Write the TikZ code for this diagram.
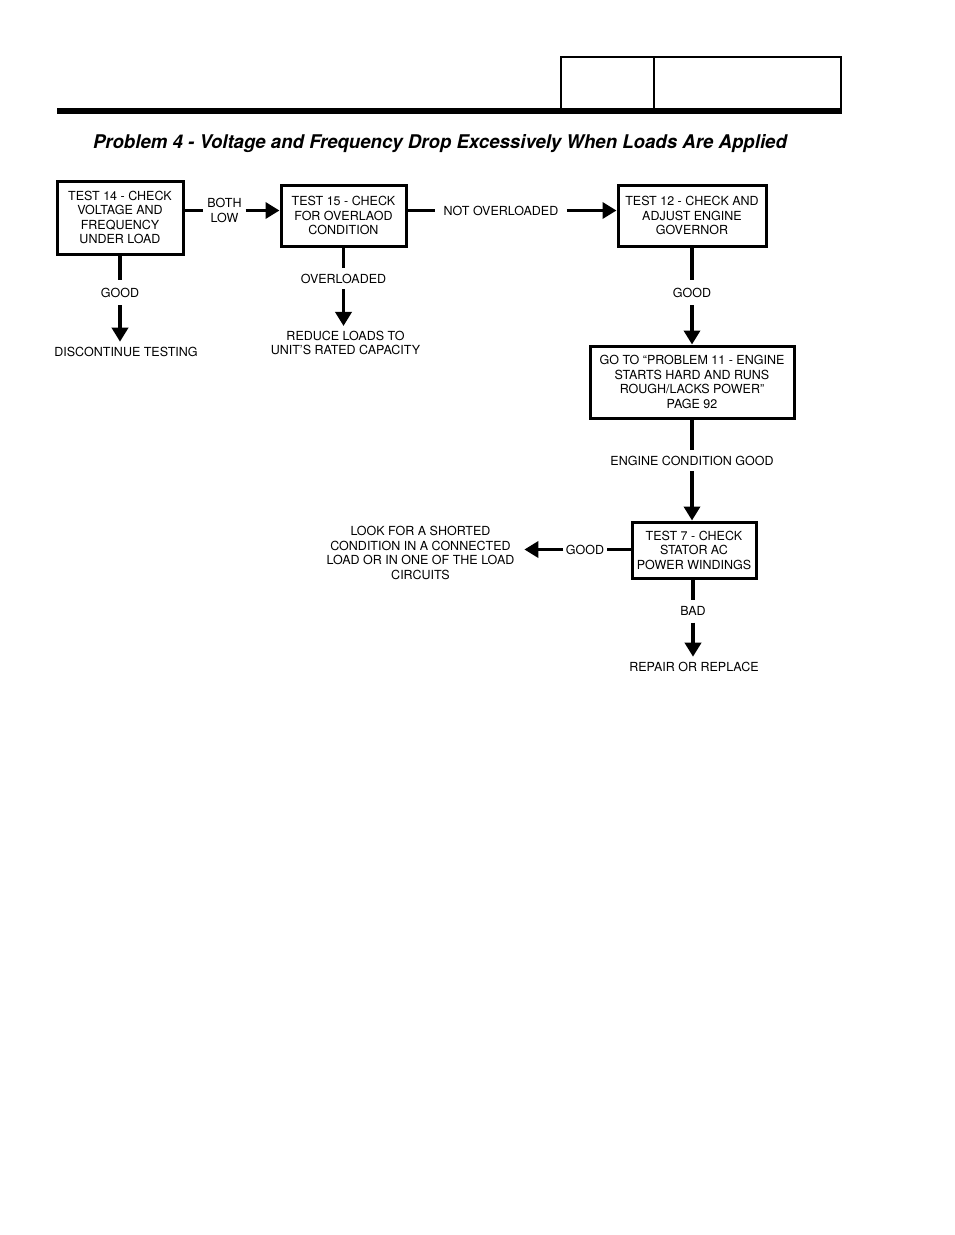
\documentclass[tikz,border=0pt]{standalone}
\usepackage{fontspec}
\setmainfont{TeX Gyre Heros}
\usepackage{tikz}
\usetikzlibrary{arrows.meta}

\tikzset{
 box/.style={draw,line width=3pt,align=center,inner sep=0pt},
 lbl/.style={inner sep=0pt,outer xsep=5pt,outer ysep=8pt,text height=9pt,text depth=0pt},
 txt/.style={inner sep=0pt,outer sep=5pt,align=center},
 con/.style={line width=3.5pt},
 arr/.style={line width=3.5pt,-{Triangle[width=16pt,length=14pt]}}
}

\begin{document}
\begin{tikzpicture}[x=1pt,y=-1pt,font=\fontsize{12.5}{14.5}\selectfont]
\useasboundingbox (0,0) rectangle (954,1235);
%\draw [help lines,step=50] (0,0) grid (954,1235);
\draw [line width=2pt] (561,110) -- (561,57) -- (841,57) -- (841,110); \draw [line width=2pt] (654,57) -- (654,110);
\fill (57,108) rectangle (842,114);
\node [anchor=base,inner sep=0pt] (title) at (440,148) {\resizebox{694pt}{14pt}{\bfseries\itshape Problem 4 - Voltage and Frequency Drop Excessively When Loads Are Applied}};

\node [box,minimum width=126pt,minimum height=73pt] (t14) at (120,217.5) {TEST 14 - CHECK\\VOLTAGE AND\\FREQUENCY\\UNDER LOAD};
\node [txt,outer xsep=4pt] (both) at (224.5,210.5) {BOTH\\LOW};
\node [box,minimum width=125pt,minimum height=61pt] (t15) at (343.5,215.5) {TEST 15 - CHECK\\FOR OVERLAOD\\CONDITION};
\node [lbl,outer xsep=8.5pt] (notover) at (501,210.5) {NOT OVERLOADED};
\node [box,minimum width=148pt,minimum height=61pt] (t12) at (692,215.5) {TEST 12 - CHECK AND\\ADJUST ENGINE\\GOVERNOR};

\draw [con] (t14.east |- both) -- (both); \draw [arr] (both) -- (t15.west |- both);
\draw [con] (t15.east |- notover) -- (notover); \draw [arr] (notover) -- (t12.west |- notover);

\node [lbl] (good14) at (120,292.5) {GOOD};
\node [txt] (disc) at (126,351.5) {DISCONTINUE TESTING};
\draw [con] (t14) -- (good14); \draw [arr] (good14) -- (good14 |- disc.north);

\node [lbl,outer ysep=6pt] (over) at (343.5,278.5) {OVERLOADED};
\node [txt] (reduce) at (345.5,343) {REDUCE LOADS TO\\UNIT'S RATED CAPACITY};
\draw [con] (t15) -- (over); \draw [arr] (over) -- (over |- reduce.north);

\node [lbl] (good12) at (692,292.5) {GOOD};
\node [box,minimum width=204pt,minimum height=72pt] (p11) at (692,382) {GO TO “PROBLEM 11 - ENGINE\\STARTS HARD AND RUNS\\ROUGH/LACKS POWER”\\PAGE 92};
\draw [con] (t12) -- (good12); \draw [arr] (good12) -- (p11);

\node [lbl,outer ysep=6pt] (engcond) at (692,460.5) {ENGINE CONDITION GOOD};
\node [box,minimum width=124pt,minimum height=56pt] (t7) at (694,550) {TEST 7 - CHECK\\STATOR AC\\POWER WINDINGS};
\draw [con] (p11) -- (engcond); \draw [arr] (engcond) -- (engcond |- t7.north);

\node [lbl,outer xsep=2.5pt] (good7) at (585,549.5) {GOOD};
\node [txt,outer xsep=10pt] (shorted) at (420.5,553) {LOOK FOR A SHORTED\\CONDITION IN A CONNECTED\\LOAD OR IN ONE OF THE LOAD\\CIRCUITS};
\draw [con] (t7.west |- good7) -- (good7); \draw [arr] (good7) -- (good7 -| shorted.east);

\node [lbl,outer ysep=7pt] (bad) at (693,611) {BAD};
\node [txt] (repair) at (694,666.5) {REPAIR OR REPLACE};
\draw [con] (t7.south -| bad) -- (bad); \draw [arr] (bad) -- (bad |- repair.north);
\end{tikzpicture}
\end{document}
